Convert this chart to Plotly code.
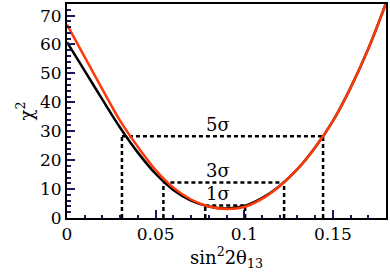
import plotly.graph_objects as go

# sin^2(2 theta13) sample points
x_vals = [0.00, 0.01, 0.02, 0.03, 0.04, 0.05, 0.06, 0.07, 0.08, 0.09,
          0.10, 0.11, 0.12, 0.13, 0.14, 0.15, 0.16, 0.17, 0.18]
# chi^2 values
chi2_black = [60.8, 50.9, 40.9, 31.2, 22.6, 15.3, 9.7, 6.0, 4.0, 3.3,
              4.2, 6.9, 11.1, 16.9, 24.4, 33.5, 45.0, 58.5, 74.3]
chi2_red = [66.9, 55.6, 44.5, 33.6, 24.6, 16.6, 10.5, 6.4, 4.0, 3.1,
            3.8, 6.6, 11.0, 16.9, 24.4, 33.5, 45.0, 58.5, 74.3]

# confidence levels
sigma_labels = ["1σ", "3σ", "5σ"]
sigma_levels = [4.3, 12.3, 28.3]
sigma_left = [0.078, 0.0544, 0.031]
sigma_right = [0.1005, 0.1225, 0.1445]
label_x = [0.0852, 0.0852, 0.0852]
label_y = [8.4, 16.3, 32.3]

FONT = "DejaVu Serif"
TICKC = "#1a1a5a"

fig = go.Figure()

dash_style = dict(color="black", width=2.5, dash="4px,3px")
for lvl, xl, xr in zip(sigma_levels, sigma_left, sigma_right):
    fig.add_trace(go.Scatter(x=[xl, xr], y=[lvl, lvl], mode="lines",
                             line=dash_style, showlegend=False, hoverinfo="skip"))
    fig.add_trace(go.Scatter(x=[xl, xl], y=[0, lvl], mode="lines",
                             line=dash_style, showlegend=False, hoverinfo="skip"))
    fig.add_trace(go.Scatter(x=[xr, xr], y=[0, lvl], mode="lines",
                             line=dash_style, showlegend=False, hoverinfo="skip"))

fig.add_trace(go.Scatter(x=x_vals, y=chi2_black, mode="lines",
                         line=dict(color="black", width=2.5, shape="spline"),
                         showlegend=False))
fig.add_trace(go.Scatter(x=x_vals, y=chi2_red, mode="lines",
                         line=dict(color="#ff3a0a", width=2.5, shape="spline"),
                         showlegend=False))

for t, lx, ly in zip(sigma_labels, label_x, label_y):
    fig.add_annotation(x=lx, y=ly, text=t, showarrow=False,
                       font=dict(family=FONT, size=18, color="black"))

fig.update_layout(
    width=390, height=273,
    margin=dict(l=67, r=4, t=4, b=55),
    paper_bgcolor="white", plot_bgcolor="white",
    font=dict(family=FONT, size=17, color="black"),
)
fig.update_xaxes(
    range=[0, 0.18], tickvals=[0, 0.05, 0.1, 0.15], ticktext=["0", "0.05", "0.1", "0.15"],
    showgrid=False, zeroline=False, automargin=False,
    showline=True, linewidth=2, linecolor="black", mirror=True,
    ticks="inside", ticklen=8, tickwidth=2, tickcolor=TICKC,
    minor=dict(dtick=0.01, tick0=0, ticks="inside", ticklen=3, tickwidth=2, tickcolor=TICKC, showgrid=False),
    tickfont=dict(family=FONT, size=17, color="black"),
    title=dict(text="sin<sup>2</sup>2θ<sub>13</sub>", font=dict(family=FONT, size=18), standoff=2),
)
fig.update_yaxes(
    range=[0, 74], tickvals=[0, 10, 20, 30, 40, 50, 60, 70],
    showgrid=False, zeroline=False, automargin=False,
    showline=True, linewidth=2, linecolor="black", mirror=True,
    ticks="inside", ticklen=8, tickwidth=2, tickcolor=TICKC,
    minor=dict(dtick=2, tick0=0, ticks="inside", ticklen=4, tickwidth=2, tickcolor=TICKC, showgrid=False),
    tickfont=dict(family=FONT, size=17, color="black"),
    title=dict(text="χ<sup>2</sup>", font=dict(family=FONT, size=18), standoff=2),
)

fig.write_html("out.html", config={"displayModeBar": False},
               post_script="document.body.style.margin='0';document.body.style.overflow='hidden';")
